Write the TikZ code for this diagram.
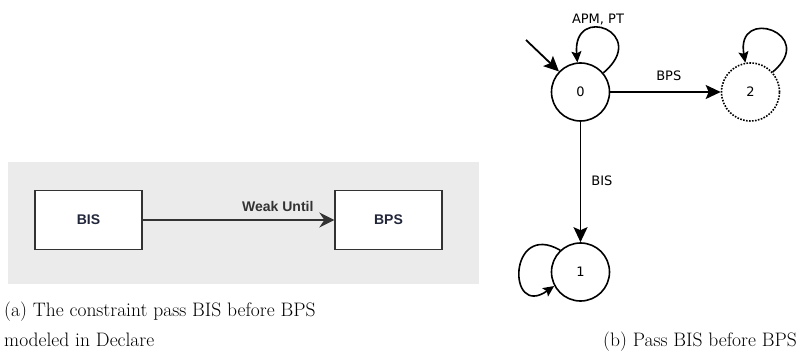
\documentclass[tikz,border=0pt]{standalone}
\usepackage{fontspec}
\newfontfamily\autfont{DejaVu Sans}
\newfontfamily\decfont{Liberation Sans}
\usetikzlibrary{arrows.meta}
\definecolor{declaregray}{HTML}{EBEBEB}
\definecolor{declareline}{HTML}{333333}
\definecolor{declaretext}{HTML}{22263A}
\tikzset{
  actbox/.style={draw=declareline, line width=1.3pt, fill=white,
    minimum width=107pt, minimum height=59pt, inner sep=0pt,
    font=\decfont\bfseries\fontsize{14}{16}\selectfont, text=declaretext},
  decarrow/.style={draw=declareline, line width=2.4pt,
    -{Stealth[length=15pt,width=15pt,inset=5pt]}},
  state/.style={circle, draw, line width=1.6pt, minimum size=58pt, inner sep=0pt,
    font=\autfont\fontsize{13}{15}\selectfont},
  autarrow/.style={line width=1.8pt, -{Stealth[length=15pt,width=14pt,inset=3pt]}},
  looparrow/.style={line width=1.6pt, -{Stealth[length=11pt,width=10pt,inset=2pt]}},
  autlabel/.style={font=\autfont\fontsize{13}{15}\selectfont, inner sep=0pt},
  caption/.style={font=\fontsize{19.5}{30}\selectfont, inner sep=0pt, align=left}
}
\begin{document}
\begin{tikzpicture}[x=1pt,y=1pt]
\useasboundingbox (0,0) rectangle (799,356);

% Declare model
\fill[declaregray] (8,72) rectangle (479,194);
\node[actbox] (bis) at (88.5,136) {BIS};
\node[actbox] (bps) at (388.5,136) {BPS};
\draw[decarrow] (bis) -- (bps)
  node[pos=0.705, above=7pt, inner sep=0pt,
       font=\decfont\bfseries\fontsize{14}{16}\selectfont, text=declareline] (wu) {Weak Until};

% Automaton
\node[state] (s0) at (580.5,264) {0};
\node[state, dash pattern=on 1.6pt off 1.4pt] (s2) at (750.5,264) {2};
\node[state] (s1) at (580.5,84) {1};
\coordinate (init) at (526,316);

\draw[autarrow] (init) -- (s0);
\draw[autarrow] (s0) -- (s2) node[autlabel, pos=0.53, above=10pt] (lbps) {BPS};
\draw[autarrow] (s0) -- (s1) node[autlabel, pos=0.49, right=10pt] (lbis) {BIS};

\draw[looparrow] (s0.40) .. controls +(40:62) and +(95:60) .. (s0.96);
\draw[looparrow] (s2.42) .. controls +(40:60) and +(100:58) .. (s2.100);
\draw[looparrow] (s1.133) .. controls +(150:60) and +(215:58) .. (s1.208);
\node[autlabel] (lapm) at (598,336) {APM, PT};

% Captions
\node[caption, anchor=base west] (capa) at (4,10)
  {(a) The constraint pass BIS before BPS\\modeled in Declare};
\node[caption, anchor=base east] (capb) at (797,10) {(b) Pass BIS before BPS};
\end{tikzpicture}
\end{document}
